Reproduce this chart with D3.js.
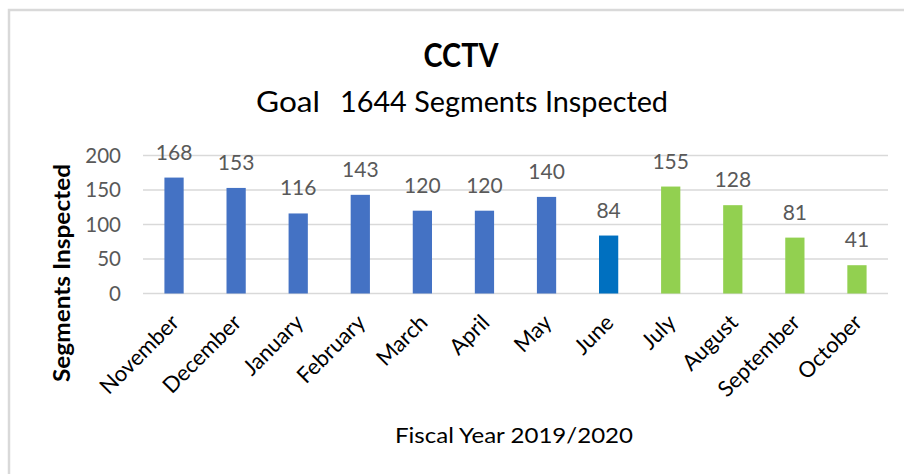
<!DOCTYPE html>
<html><head><meta charset="utf-8">
<script src="https://cdn.jsdelivr.net/npm/d3@7"></script>
<style>
body{margin:0;background:#fff;}
text{font-family:Lato,"Open Sans",sans-serif;}
</style></head>
<body><svg id="c" width="904" height="474"></svg>
<script>
const months = ["November","December","January","February","March","April","May","June","July","August","September","October"];
const values = [168,153,116,143,120,120,140,84,155,128,81,41];
const barColors = ["#4472C4","#4472C4","#4472C4","#4472C4","#4472C4","#4472C4","#4472C4","#0070C0","#92D050","#92D050","#92D050","#92D050"];
const yTicks = [0,50,100,150,200];
const titleText = "CCTV";
const goalLabel = "Goal";
const goalText = "1644 Segments Inspected";
const xTitle = "Fiscal Year 2019/2020";
const yTitle = "Segments Inspected";

const svg = d3.select("#c");
// frame
svg.append("path").attr("d","M9,474 V10 H904").attr("fill","none").attr("stroke","#d9d9d9").attr("stroke-width",2.5);

const m = {left:143, right:888, top:155.5, bottom:293.5};
const x = d3.scaleBand().domain(months).range([m.left,m.right]).paddingInner(0.69).paddingOuter(0.345);
const y = d3.scaleLinear().domain([0,200]).range([m.bottom,m.top]);

// gridlines
svg.append("g").selectAll("line").data(yTicks).join("line")
  .attr("x1",m.left).attr("x2",m.right)
  .attr("y1",d=>y(d)).attr("y2",d=>y(d))
  .attr("stroke","#d9d9d9").attr("stroke-width",1.5);

// y axis tick labels
const yAxis = d3.axisLeft(y).tickValues(yTicks).tickSize(0).tickPadding(0);
const ya = svg.append("g").attr("transform",`translate(${m.left-22},0)`).call(yAxis);
ya.select(".domain").remove();
ya.selectAll("text").attr("fill","#595959").style("font-size","20.5px").style("font-family","Lato, sans-serif");

// bars
svg.append("g").selectAll("rect").data(values).join("rect")
  .attr("x",(d,i)=>x(months[i])).attr("width",x.bandwidth())
  .attr("y",d=>y(d)).attr("height",d=>y(0)-y(d))
  .attr("fill",(d,i)=>barColors[i]);

// data labels
svg.append("g").selectAll("text").data(values).join("text")
  .attr("x",(d,i)=>x(months[i])+x.bandwidth()/2)
  .attr("y",d=>y(d)-18)
  .attr("text-anchor","middle").attr("fill","#595959").style("font-size","21px")
  .text(d=>d);

// x axis labels
const xAxis = d3.axisBottom(x).tickSize(0).tickPadding(0);
const xa = svg.append("g").attr("transform",`translate(0,${m.bottom})`).call(xAxis);
xa.select(".domain").remove();
xa.selectAll("text")
  .attr("fill","#000").style("font-size","22px").style("font-family","Lato, sans-serif")
  .attr("text-anchor","end").attr("dy","0.35em")
  .attr("transform","translate(1,25) rotate(-45)")
  .attr("x",0).attr("y",0);

// titles
svg.append("text").attr("x",461).attr("y",67).attr("text-anchor","middle")
  .style("font-size","32px").style("font-weight","bold").attr("fill","#000")
  .attr("textLength",75).attr("lengthAdjust","spacingAndGlyphs").text(titleText);
svg.append("text").attr("x",256).attr("y",112).style("font-size","29px").attr("fill","#000")
  .attr("textLength",64).attr("lengthAdjust","spacingAndGlyphs").text(goalLabel);
svg.append("text").attr("x",340).attr("y",112).style("font-size","29px").attr("fill","#000")
  .attr("textLength",328).attr("lengthAdjust","spacingAndGlyphs").text(goalText);

svg.append("text").attr("x",514).attr("y",443).attr("text-anchor","middle")
  .style("font-size","22px").attr("fill","#000")
  .attr("textLength",238).attr("lengthAdjust","spacingAndGlyphs").text(xTitle);
svg.append("text").attr("transform","translate(70,273) rotate(-90)").attr("text-anchor","middle")
  .style("font-size","22px").style("font-weight","bold").attr("fill","#000")
  .attr("textLength",218).attr("lengthAdjust","spacingAndGlyphs").text(yTitle);
</script></body></html>
